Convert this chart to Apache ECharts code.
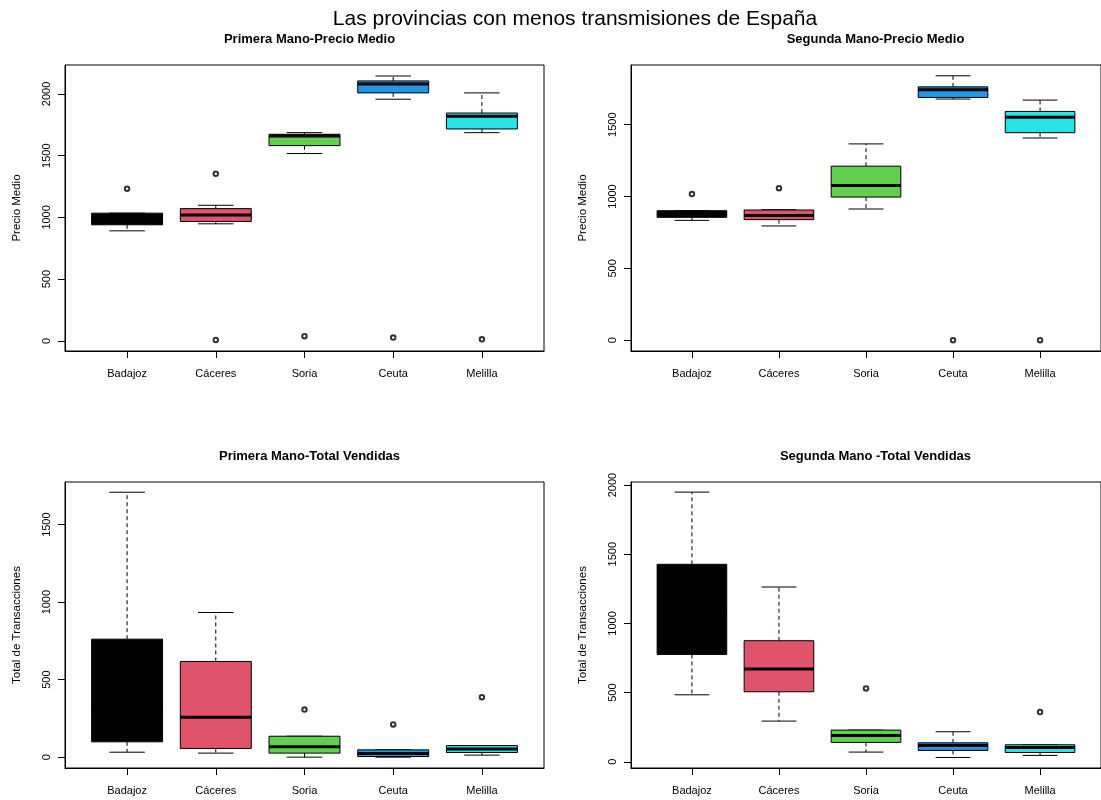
<!DOCTYPE html>
<html>
<head>
<meta charset="utf-8">
<script src="https://cdn.jsdelivr.net/npm/echarts@6/dist/echarts.min.js"></script>
<style>
html,body{margin:0;padding:0;background:#fff;}
#chart{width:1101px;height:800px;}
</style>
</head>
<body>
<div id="chart"></div>
<script>
// ---- data ----
const categories = ['Badajoz', 'Cáceres', 'Soria', 'Ceuta', 'Melilla'];
const boxColors = ['#000000', '#DF536B', '#61D04F', '#2297E6', '#28E2E5'];

const mainTitle = 'Las provincias con menos transmisiones de España';
const panelTitles = ['Primera Mano-Precio Medio', 'Segunda Mano-Precio Medio',
                     'Primera Mano-Total Vendidas', 'Segunda Mano -Total Vendidas'];
const yNames = ['Precio Medio', 'Precio Medio', 'Total de Transacciones', 'Total de Transacciones'];

// box stats per category: [lower whisker, Q1, median, Q3, upper whisker]
const primeraPrecio = [
  [891, 940, 985, 1034, 1034],
  [948, 967, 1020, 1071, 1098],
  [1517, 1581, 1659, 1673, 1686],
  [1957, 2008, 2081, 2105, 2145],
  [1686, 1716, 1818, 1845, 2008]
];
const primeraPrecioOut = [[1, 1232], [2, 1353], [2, 8], [3, 38], [4, 27], [5, 13]];

const segundaPrecio = [
  [834, 855, 878, 901, 901],
  [795, 839, 867, 906, 908],
  [913, 996, 1077, 1211, 1366],
  [1678, 1689, 1743, 1763, 1840],
  [1407, 1444, 1551, 1592, 1671]
];
const segundaPrecioOut = [[1, 1017], [2, 1058], [4, 0], [5, 0]];

const primeraTotal = [
  [32, 99, 300, 761, 1709],
  [26, 56, 258, 617, 933],
  [0, 26, 67, 135, 135],
  [0, 4, 24, 47, 47],
  [13, 30, 52, 75, 75]
];
const primeraTotalOut = [[3, 307], [4, 211], [5, 387]];

const segundaTotal = [
  [484, 776, 1100, 1427, 1949],
  [294, 506, 670, 875, 1263],
  [70, 140, 190, 229, 229],
  [31, 82, 118, 137, 217],
  [46, 67, 104, 123, 123]
];
const segundaTotalOut = [[3, 530], [5, 359]];

const yTicks = [
  [0, 500, 1000, 1500, 2000],
  [0, 500, 1000, 1500],
  [0, 500, 1000, 1500],
  [0, 500, 1000, 1500, 2000]
];
const yRanges = [[-82, 2234], [-75, 1915], [-70, 1775], [-45, 2022]];
const xTicks = [1, 2, 3, 4, 5];

// ---- chart ----
const panels = [
  {stats: primeraPrecio, out: primeraPrecioOut},
  {stats: segundaPrecio, out: segundaPrecioOut},
  {stats: primeraTotal, out: primeraTotalOut},
  {stats: segundaTotal, out: segundaTotalOut}
];
const gridPos = [
  {left: 65, top: 65, width: 479, height: 286},
  {left: 631, top: 65, width: 479, height: 286},
  {left: 65, top: 482, width: 479, height: 286},
  {left: 631, top: 482, width: 479, height: 286}
];
const titleCenters = [[304.5, 31], [870.5, 31], [304.5, 448], [870.5, 448]];
const FONT = '"Liberation Sans", Arial, Helvetica, sans-serif';

function renderBox(params, api) {
  const x = api.value(0);
  const lo = api.value(1), q1 = api.value(2), med = api.value(3), q3 = api.value(4), hi = api.value(5);
  const cx = api.coord([x, med])[0];
  const yLo = api.coord([x, lo])[1], yQ1 = api.coord([x, q1])[1];
  const yMed = api.coord([x, med])[1], yQ3 = api.coord([x, q3])[1], yHi = api.coord([x, hi])[1];
  const half = api.size([0.8, 0])[0] / 2;
  const capHalf = api.size([0.4, 0])[0] / 2;
  const dash = {stroke: '#000', lineWidth: 1, lineDash: [4, 3]};
  const solid = {stroke: '#000', lineWidth: 1};
  return {
    type: 'group',
    children: [
      {type: 'line', shape: {x1: cx, y1: yQ1, x2: cx, y2: yLo}, style: dash},
      {type: 'line', shape: {x1: cx, y1: yQ3, x2: cx, y2: yHi}, style: dash},
      {type: 'line', shape: {x1: cx - capHalf, y1: yLo, x2: cx + capHalf, y2: yLo}, style: solid},
      {type: 'line', shape: {x1: cx - capHalf, y1: yHi, x2: cx + capHalf, y2: yHi}, style: solid},
      {type: 'rect', shape: {x: cx - half, y: yQ3, width: 2 * half, height: yQ1 - yQ3},
        style: {fill: boxColors[params.dataIndex], stroke: '#000', lineWidth: 1}},
      {type: 'line', shape: {x1: cx - half, y1: yMed, x2: cx + half, y2: yMed},
        style: {stroke: '#000', lineWidth: 3}}
    ]
  };
}

const grid = [], xAxis = [], yAxis = [], series = [];
const title = [{
  text: mainTitle, left: 570, top: 4, textAlign: 'center',
  textStyle: {fontFamily: FONT, fontSize: 21, fontWeight: 'normal', color: '#000'}
}];

panels.forEach((p, g) => {
  grid.push(Object.assign({show: true, borderColor: '#000', borderWidth: 1, backgroundColor: 'transparent'}, gridPos[g]));
  title.push({
    text: panelTitles[g], left: titleCenters[g][0], top: titleCenters[g][1] - 3, textAlign: 'center',
    textStyle: {fontFamily: FONT, fontSize: 13, fontWeight: 'bold', color: '#000'}
  });
  xAxis.push({
    type: 'value', gridIndex: g, min: 0.3, max: 5.7, position: 'bottom',
    splitLine: {show: false},
    axisLine: {show: true, onZero: false, lineStyle: {color: '#000', width: 1}},
    axisTick: {show: true, inside: false, length: 7, customValues: xTicks, lineStyle: {color: '#000', width: 1}},
    axisLabel: {customValues: xTicks, formatter: v => categories[Math.round(v) - 1] || '',
      fontFamily: FONT, fontSize: 11, color: '#000', margin: 17}
  });
  yAxis.push({
    type: 'value', gridIndex: g, min: yRanges[g][0], max: yRanges[g][1], position: 'left',
    splitLine: {show: false},
    axisLine: {show: true, onZero: false, lineStyle: {color: '#000', width: 1}},
    axisTick: {show: true, inside: false, length: 7, customValues: yTicks[g], lineStyle: {color: '#000', width: 1}},
    axisLabel: {customValues: yTicks[g], rotate: 90, formatter: v => String(v),
      fontFamily: FONT, fontSize: 11, color: '#000', margin: 13},
    name: yNames[g], nameLocation: 'middle', nameRotate: 90, nameGap: 42,
    nameTextStyle: {fontFamily: FONT, fontSize: 11.5, color: '#000'}
  });
  series.push({
    type: 'custom', xAxisIndex: g, yAxisIndex: g,
    renderItem: renderBox,
    encode: {x: 0, y: [1, 2, 3, 4, 5]},
    data: p.stats.map((s, i) => [i + 1].concat(s)),
    silent: true, animation: false
  });
  series.push({
    type: 'scatter', xAxisIndex: g, yAxisIndex: g,
    symbol: 'emptyCircle', symbolSize: 4.5,
    itemStyle: {color: '#000', borderColor: '#000', borderWidth: 0.9},
    data: p.out,
    silent: true, animation: false, z: 5
  });
});

const chart = echarts.init(document.getElementById('chart'), null, {renderer: 'canvas'});
chart.setOption({
  backgroundColor: '#fff',
  animation: false,
  title, grid, xAxis, yAxis, series
});
</script>
</body>
</html>
